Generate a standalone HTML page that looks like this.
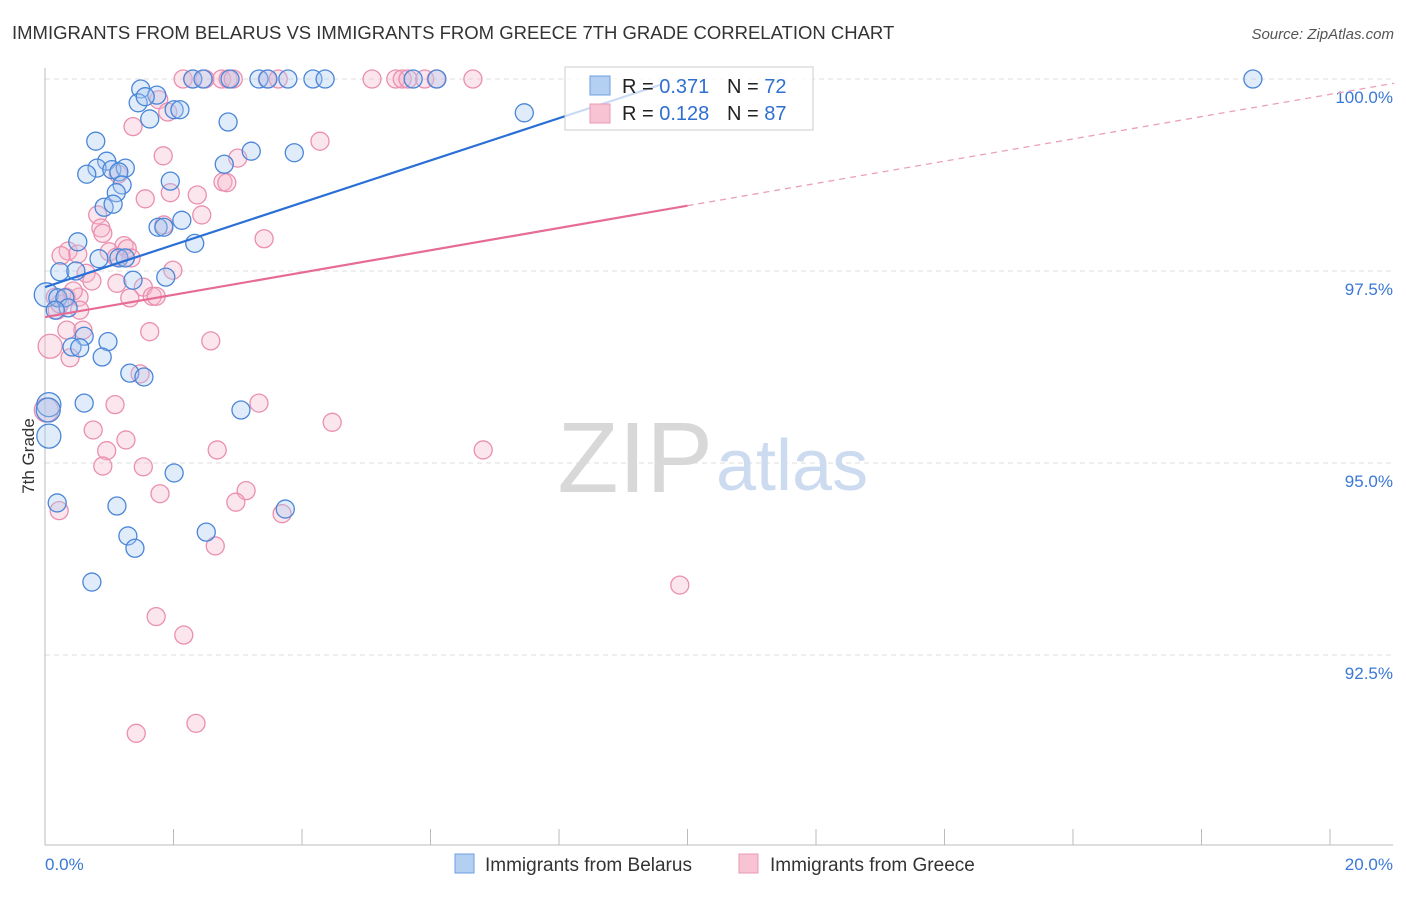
<!DOCTYPE html>
<html><head><meta charset="utf-8"><style>
body{margin:0;background:#fff;font-family:"Liberation Sans",sans-serif;}
svg text{font-family:"Liberation Sans",sans-serif;}
</style></head><body>
<svg id="c" width="1406" height="892" xmlns="http://www.w3.org/2000/svg">
<text x="12" y="39" font-size="18.5" fill="#333">IMMIGRANTS FROM BELARUS VS IMMIGRANTS FROM GREECE 7TH GRADE CORRELATION CHART</text>
<text x="1394" y="39" font-size="15" fill="#555" font-style="italic" text-anchor="end">Source: ZipAtlas.com</text>
<text x="34" y="456" font-size="17" fill="#333" text-anchor="middle" transform="rotate(-90 34 456)">7th Grade</text>
<g id="grid"></g>
<text x="713" y="492" font-size="100" fill="#d8d8d8" text-anchor="end" font-family="Liberation Serif">ZIP</text>
<text x="716" y="490" font-size="72" fill="#cddbf0">atlas</text>
<g id="pts"></g>
<g id="reg"></g>
<g id="legend">
<rect x="565" y="67" width="248" height="63" fill="#fff" fill-opacity="0.75" stroke="#ccc"/>
<rect x="590" y="76" width="20" height="19" fill="#b3cff2" stroke="#6e9fe0"/>
<rect x="590" y="104" width="20" height="19" fill="#f8c3d3" stroke="#e999b4"/>
<text x="622" y="93" font-size="20" fill="#222">R = <tspan fill="#2f6fd1">0.371</tspan></text>
<text x="727" y="93" font-size="20" fill="#222">N = <tspan fill="#2f6fd1">72</tspan></text>
<text x="622" y="120" font-size="20" fill="#222">R = <tspan fill="#2f6fd1">0.128</tspan></text>
<text x="727" y="120" font-size="20" fill="#222">N = <tspan fill="#2f6fd1">87</tspan></text>
</g>
<g>
<rect x="455" y="854" width="19" height="19" fill="#b3cff2" stroke="#6e9fe0"/>
<text x="485" y="871" font-size="19" fill="#333">Immigrants from Belarus</text>
<rect x="739" y="854" width="19" height="19" fill="#f8c3d3" stroke="#e999b4"/>
<text x="770" y="871" font-size="19" fill="#333">Immigrants from Greece</text>
</g>
</svg>
<script>
const yTicks=[100,97.5,95,92.5];
const yTickLabels=["100.0%","97.5%","95.0%","92.5%"];
const xLabels=["0.0%","20.0%"];
const belX=[1.49,1.74,1.45,1.56,2.30,2.46,2.88,3.33,3.47,3.78,4.17,4.36,5.73,6.10,18.80,7.46,2.01,2.10,1.63,2.85,0.79,3.21,3.88,0.96,2.79,0.81,0.65,1.04,1.25,1.15,1.95,1.20,1.11,0.92,1.06,2.13,1.76,1.85,0.51,2.33,0.23,0.48,0.84,1.15,1.25,1.37,1.88,0.02,0.20,0.31,0.36,0.16,0.61,0.98,0.42,0.54,0.89,1.32,1.54,0.61,3.05,0.06,0.06,2.01,0.19,1.12,3.74,1.29,2.51,1.40,0.73,0.05];
const belY=[99.87,99.79,99.69,99.77,100,100,100,100,100,100,100,100,100,100,100,99.56,99.60,99.60,99.48,99.44,99.19,99.06,99.04,98.93,98.89,98.84,98.76,98.82,98.84,98.79,98.67,98.62,98.52,98.33,98.37,98.16,98.07,98.07,97.88,97.86,97.49,97.50,97.66,97.67,97.67,97.38,97.42,97.19,97.15,97.15,97.02,96.99,96.65,96.58,96.51,96.50,96.38,96.17,96.12,95.78,95.69,95.76,95.35,94.87,94.48,94.44,94.40,94.05,94.10,93.89,93.45,95.69];
const greX=[2.15,2.30,2.49,2.75,2.85,2.93,3.46,3.63,5.09,5.46,5.56,5.65,5.91,6.09,6.66,1.77,1.91,1.37,4.28,1.84,3.00,2.77,2.83,1.14,1.56,1.95,2.37,2.44,0.82,0.87,0.90,1.85,3.41,0.36,0.51,0.25,1.00,1.23,1.28,1.11,1.34,1.99,0.64,0.73,1.12,1.53,0.33,0.53,1.32,1.67,1.73,0.19,0.54,0.34,0.59,1.63,2.58,0.08,0.39,1.48,1.09,3.33,4.47,0.75,1.26,0.96,2.68,6.82,0.90,1.53,3.13,1.79,2.97,0.22,3.69,2.65,9.88,1.73,2.16,2.35,1.42,0.02,0.23,0.44,0.16];
const greY=[100,100,100,100,100,100,100,100,100,100,100,100,100,100,100,99.73,99.57,99.38,99.19,99.00,98.97,98.66,98.65,98.76,98.44,98.52,98.49,98.23,98.23,98.06,97.99,98.10,97.92,97.76,97.72,97.70,97.75,97.83,97.79,97.68,97.67,97.51,97.47,97.37,97.34,97.29,97.16,97.16,97.15,97.17,97.17,96.99,96.99,96.73,96.73,96.71,96.59,96.52,96.37,96.16,95.76,95.78,95.53,95.43,95.30,95.16,95.17,95.17,94.96,94.95,94.64,94.60,94.49,94.38,94.34,93.92,93.41,93.00,92.76,91.61,91.48,95.69,97.07,97.24,97.16];
const belReg=[97.29,0.275,9.6];
const greReg=[96.90,0.145,10,21];
const NS="http://www.w3.org/2000/svg";
const xs=v=>45+v*64.25, ys=v=>79+(100-v)*76.8;
function mk(t,a,p){const e=document.createElementNS(NS,t);for(const k in a)e.setAttribute(k,a[k]);p.appendChild(e);return e;}
const grid=document.getElementById('grid');
yTicks.forEach((t,i)=>{
 const l=mk('line',{x1:45,x2:1393,y1:ys(t),y2:ys(t),stroke:'#ddd','stroke-dasharray':'5,4'},grid);
 
 
 const tx=mk('text',{x:1393,y:ys(t)+24,'font-size':17,fill:'#3a78d6','text-anchor':'end'},grid);
 tx.textContent=yTickLabels[i];
 
 
});
const ax=mk('line',{x1:45,x2:45,y1:68,y2:845,stroke:'#bbb'},grid);


const bx=mk('line',{x1:45,x2:1393,y1:845,y2:845,stroke:'#bbb'},grid);


for(let i=1;i<=10;i++){const t=mk('line',{x1:xs(i*2),x2:xs(i*2),y1:829,y2:845,stroke:'#bbb'},grid);
 
 }
[[0,'start'],[20,'end']].forEach((d,i)=>{const t=mk('text',{x:i?1393:45,y:870,'font-size':17,fill:'#3a78d6','text-anchor':d[1]},grid);t.textContent=xLabels[i];
 
 });
const pts=document.getElementById('pts');
function series(X,Y,fill,stroke,name){X.forEach((x,i)=>{const r=x<0.1?12:9;
 const c=mk('circle',{cx:xs(x),cy:ys(Y[i]),r:r,fill:fill,'fill-opacity':0.35,stroke:stroke,'stroke-width':1.3},pts);
 
 });}
series(greX,greY,'#f7b7cb','#ea8fb0','greece-point');
series(belX,belY,'#a9c8f0','#4a86d8','belarus-point');
const reg=document.getElementById('reg');
const bl=mk('line',{x1:xs(0),y1:ys(belReg[0]),x2:xs(belReg[2]),y2:ys(belReg[0]+belReg[1]*belReg[2]),stroke:'#2a6fd6','stroke-width':2.2},reg);


const gl=mk('line',{x1:xs(0),y1:ys(greReg[0]),x2:xs(greReg[2]),y2:ys(greReg[0]+greReg[1]*greReg[2]),stroke:'#e66b95','stroke-width':2.2},reg);


const gd=mk('line',{x1:xs(greReg[2]),y1:ys(greReg[0]+greReg[1]*greReg[2]),x2:xs(greReg[3]),y2:ys(greReg[0]+greReg[1]*greReg[3]),stroke:'#eaa0b8','stroke-width':1.3,'stroke-dasharray':'6,5'},reg);


</script>
</body></html>
